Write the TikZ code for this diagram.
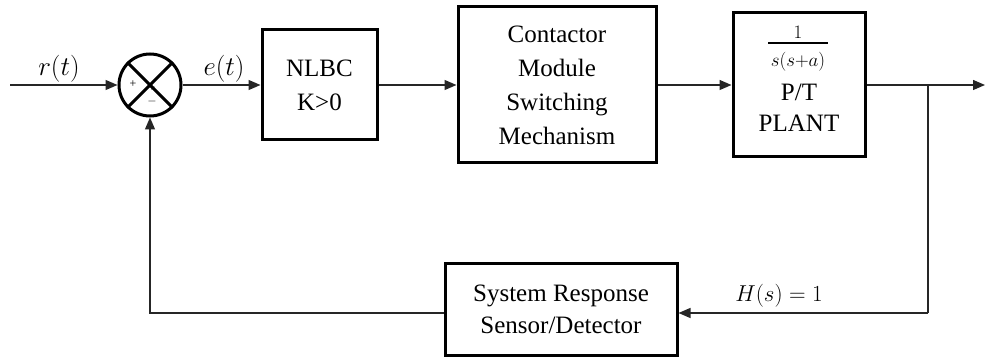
\RequirePackage{fix-cm}
\documentclass[tikz,border=0pt]{standalone}
\usepackage{fontspec}
\setmainfont{Liberation Serif}
\usetikzlibrary{arrows.meta}
\begin{document}
\begin{tikzpicture}[x=1pt,y=-1pt,
  blockbox/.style={draw, line width=3pt, inner sep=0pt, align=center,
    font=\fontsize{25}{34}\selectfont},
  signal/.style={line width=1.3pt, draw=black!85},
  arr/.style={signal, -{Triangle[length=12pt,width=10pt]}},
  lab/.style={font=\fontsize{27}{30}\selectfont, inner sep=0pt},
  tfpart/.style={font=\fontsize{19}{22}\selectfont, inner sep=0pt},
  sign/.style={font=\fontsize{12}{12}\selectfont, inner sep=0pt}]
\useasboundingbox (0,0) rectangle (985,358);

% summing junction
\node[circle, draw, line width=3pt, minimum size=62pt, inner sep=0pt] (sum) at (150,85) {};
\draw[line width=3pt] (sum.north west) -- (sum.south east);
\draw[line width=3pt] (sum.north east) -- (sum.south west);
\node[sign] (splus) at (133,84) {+};
\node[sign] (cplus) at (152,88) {+};
\node[sign] (sminus) at (152,102) {$-$};

% forward path blocks
\node[blockbox, minimum width=115pt, minimum height=110pt] (nlbc) at (319.5,85) {NLBC\\K>0};
\node[blockbox, minimum width=198pt, minimum height=156pt] (cont) at (557,85)
  {Contactor\\Module\\Switching\\Mechanism};
\node[blockbox, minimum width=132pt, minimum height=144pt] (plant) at (799,85) {};

% plant transfer function 1/(s(s+a)) and caption
\node[tfpart] (tfnum) at (798,32) {$1$};
\node[tfpart] (tfden) at (798,62) {$s(s{+}a)$};
\draw[line width=1.2pt] (768,43) -- (828,43);
\node[font=\fontsize{25}{31}\selectfont, align=center, inner sep=0pt] (ptxt) at (799,108) {P/T\\PLANT};

% feedback block
\node[blockbox, minimum width=232pt, minimum height=92pt, font=\fontsize{25}{32}\selectfont]
  (sens) at (561,309) {System Response\\Sensor/Detector};

% connectors
\coordinate (in) at (10,85);
\coordinate (out) at (985,85);
\coordinate (br) at (928,85);
\coordinate (fbr) at (928,313);

\draw[arr] (in) -- (sum.west);
\draw[arr] (sum.east) -- (nlbc.west);
\draw[arr] (nlbc.east) -- (cont.west);
\draw[arr] (cont.east) -- (plant.west);
\draw[arr] (plant.east) -- (out);
\draw[signal] (br) -- (fbr);
\draw[arr] (fbr) -- (sens.east |- fbr);
\draw[arr] (sens.west |- fbr) -| (sum.south);

% signal labels
\node[lab] (rl) at (59,69) {$r(t)$};
\node[lab] (el) at (224,69) {$e(t)$};
\node[lab, font=\fontsize{23}{27}\selectfont] (hl) at (779,296) {$H(s)=1$};
\end{tikzpicture}
\end{document}
